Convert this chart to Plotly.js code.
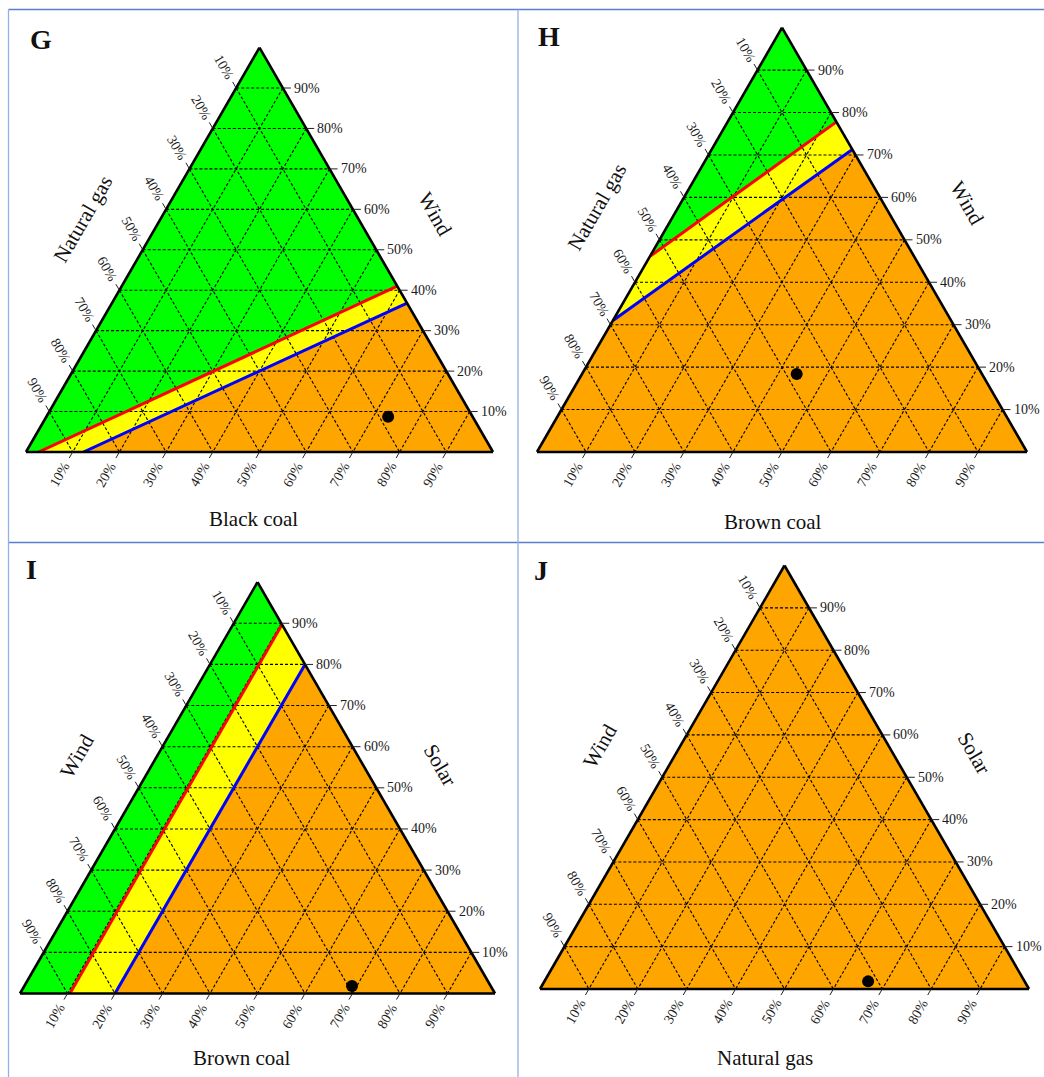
<!DOCTYPE html>
<html>
<head>
<meta charset="utf-8">
<script src="https://cdn.plot.ly/plotly-3.0.1.min.js"></script>
<style>
  html, body { margin: 0; padding: 0; background: #fff; }
</style>
</head>
<body>
<div id="graph" style="width:1044px;height:1077px;"></div>
<script>
// four ternary diagrams (G, H, I, J): least-cost mix of three sources
// every composition is written as [top, left, right] fractions

var tickVals = [0.1, 0.2, 0.3, 0.4, 0.5, 0.6, 0.7, 0.8, 0.9];
var tickText = ['10%', '20%', '30%', '40%', '50%', '60%', '70%', '80%', '90%'];

var letters = ['G', 'H', 'I', 'J'];
var topNames = ['Wind', 'Wind', 'Solar', 'Solar'];
var leftNames = ['Natural gas', 'Natural gas', 'Wind', 'Wind'];
var rightNames = ['Black coal', 'Brown coal', 'Brown coal', 'Natural gas'];

// red and blue boundaries, two end points each
var redG = [[0, 0.973, 0.027], [0.41, 0, 0.59]];
var blueG = [[0, 0.877, 0.123], [0.368, 0, 0.632]];
var redH = [[0.461, 0.539, 0], [0.778, 0, 0.222]];
var blueH = [[0.31, 0.69, 0], [0.713, 0, 0.287]];
var redI = [[0, 0.895, 0.105], [0.897, 0, 0.103]];
var blueI = [[0, 0.8, 0.2], [0.8, 0, 0.2]];
var redLines = [redG, redH, redI, null];
var blueLines = [blueG, blueH, blueI, null];

// black dot in each diagram
var dots = [[0.087, 0.181, 0.732], [0.184, 0.378, 0.438], [0.018, 0.292, 0.69], [0.018, 0.32, 0.662]];

var GREEN = '#00ff00', YELLOW = '#ffff00', ORANGE = '#ffa500';
var FONT = 'Liberation Serif, Times New Roman, serif';

// where each triangle sits on the page (pixels)
var frames = [
  {left: 26, base: 452, side: 467, bottom: [253, 519], leftT: [83, 219], rightT: [435, 214], tag: [41, 39]},
  {left: 537, base: 452, side: 490, bottom: [773, 522], leftT: [597, 207], rightT: [967, 203], tag: [549, 37]},
  {left: 20, base: 993.5, side: 475, bottom: [242, 1058], leftT: [77, 756], rightT: [440, 765], tag: [31, 569]},
  {left: 540, base: 989, side: 489, bottom: [765, 1058], leftT: [600, 746], rightT: [974, 753], tag: [541, 570]}
];

var W = 1044, H = 1077, S3 = Math.sqrt(3) / 2;
var TICKFONT = {size: 14, family: FONT, color: '#1a1a1a'};

function px(f, p) {
  var h = f.side * S3;
  return [f.left + f.side * (p[2] + p[0] / 2), f.base - h * p[0]];
}
function pap(pt) { return [pt[0] / W, 1 - pt[1] / H]; }

// which side of a boundary a composition is on (a,c plane is affine)
function side(line, p) {
  var p1 = line[0], p2 = line[1];
  return (p2[0] - p1[0]) * (p[2] - p1[2]) - (p2[2] - p1[2]) * (p[0] - p1[0]);
}
function clip(poly, line, sign) {
  var out = [];
  for (var i = 0; i < poly.length; i++) {
    var p = poly[i], q = poly[(i + 1) % poly.length];
    var sp = side(line, p) * sign, sq = side(line, q) * sign;
    if (sp >= 0) out.push(p);
    if ((sp > 0 && sq < 0) || (sp < 0 && sq > 0)) {
      var t = sp / (sp - sq);
      out.push([p[0] + t * (q[0] - p[0]), p[1] + t * (q[1] - p[1]), p[2] + t * (q[2] - p[2])]);
    }
  }
  return out;
}
function col(arr, k) { return arr.map(function (p) { return p[k]; }); }

var data = [], shapes = [], annotations = [];
var corners = [[1, 0, 0], [0, 1, 0], [0, 0, 1]];

var axisStyle = {
  showticklabels: false, ticks: '', showgrid: false,
  showline: true, linecolor: 'black', linewidth: 2.6, title: {text: ''}
};

var layout = {
  width: W, height: H,
  margin: {l: 0, r: 0, t: 0, b: 0},
  paper_bgcolor: 'white',
  showlegend: false,
  hovermode: false,
  font: {family: FONT, color: '#1a1a1a'}
};

for (var k = 0; k < 4; k++) {
  var f = frames[k];
  var sub = k === 0 ? 'ternary' : 'ternary' + (k + 1);
  var h = f.side * S3;

  layout[sub] = {
    domain: {x: [f.left / W, (f.left + f.side) / W], y: [1 - f.base / H, 1 - (f.base - h) / H]},
    bgcolor: ORANGE,
    sum: 1,
    aaxis: axisStyle, baxis: axisStyle, caxis: axisStyle
  };

  var dot = dots[k];
  var red = redLines[k], blue = blueLines[k];

  if (red) {
    // green lies beyond the red line, away from the dot
    var sRed = side(red, dot) > 0 ? -1 : 1;
    var sBlue = side(blue, dot) > 0 ? -1 : 1;
    var greenPoly = clip(corners, red, sRed);
    var yellowPoly = clip(clip(corners, blue, sBlue), red, -sRed);
    [[greenPoly, GREEN], [yellowPoly, YELLOW]].forEach(function (pc) {
      data.push({
        type: 'scatterternary', subplot: sub, mode: 'none',
        a: col(pc[0], 0), b: col(pc[0], 1), c: col(pc[0], 2),
        fill: 'toself', fillcolor: pc[1]
      });
    });
  }

  // dashed grid
  var ga = [], gb = [], gc = [];
  tickVals.forEach(function (v) {
    var segs = [
      [[v, 1 - v, 0], [v, 0, 1 - v]],
      [[1 - v, v, 0], [0, v, 1 - v]],
      [[1 - v, 0, v], [0, 1 - v, v]]
    ];
    segs.forEach(function (s) {
      ga.push(s[0][0], s[1][0], null);
      gb.push(s[0][1], s[1][1], null);
      gc.push(s[0][2], s[1][2], null);
    });
  });
  data.push({
    type: 'scatterternary', subplot: sub, mode: 'lines',
    a: ga, b: gb, c: gc,
    line: {color: '#000', width: 1.1, dash: '3px,2px'}
  });

  if (red) {
    data.push({
      type: 'scatterternary', subplot: sub, mode: 'lines',
      a: col(red, 0), b: col(red, 1), c: col(red, 2),
      line: {color: '#ff0000', width: 3}
    });
    data.push({
      type: 'scatterternary', subplot: sub, mode: 'lines',
      a: col(blue, 0), b: col(blue, 1), c: col(blue, 2),
      line: {color: '#0000ff', width: 3}
    });
  }

  data.push({
    type: 'scatterternary', subplot: sub, mode: 'markers',
    a: [dot[0]], b: [dot[1]], c: [dot[2]],
    marker: {color: 'black', size: 12}
  });

  // ticks and tick labels on the three edges
  tickVals.forEach(function (v, i) {
    var txt = tickText[i];
    // right edge: top component
    var pr = px(f, [v, 0, 1 - v]);
    addTick(pr, [pr[0] + 8, pr[1]]);
    var lr = pap([pr[0] + 9, pr[1]]);
    annotations.push({x: lr[0], y: lr[1], xref: 'paper', yref: 'paper', text: txt, showarrow: false,
      xanchor: 'left', yanchor: 'middle', font: TICKFONT});
    // left edge: left component
    var pl = px(f, [1 - v, v, 0]);
    var dl = [-0.5, -S3];
    addTick(pl, [pl[0] + 7 * dl[0], pl[1] + 7 * dl[1]]);
    var ll = pap([pl[0] + 24 * dl[0], pl[1] + 24 * dl[1]]);
    annotations.push({x: ll[0], y: ll[1], xref: 'paper', yref: 'paper', text: txt, showarrow: false,
      textangle: 60, xanchor: 'center', yanchor: 'middle', font: TICKFONT});
    // bottom edge: right component
    var pb = px(f, [0, 1 - v, v]);
    var db = [-0.5, S3];
    addTick(pb, [pb[0] + 7 * db[0], pb[1] + 7 * db[1]]);
    var lb = pap([pb[0] + 26 * db[0], pb[1] + 26 * db[1]]);
    annotations.push({x: lb[0], y: lb[1], xref: 'paper', yref: 'paper', text: txt, showarrow: false,
      textangle: -60, xanchor: 'center', yanchor: 'middle', font: TICKFONT});
  });

  addText(f.bottom, rightNames[k], 0, 21);
  addText(f.leftT, leftNames[k], -60, 21);
  addText(f.rightT, topNames[k], 60, 21);
  addText(f.tag, '<b>' + letters[k] + '</b>', 0, 28);
}

function addTick(p0, p1) {
  var a = pap(p0), b = pap(p1);
  shapes.push({type: 'line', xref: 'paper', yref: 'paper', x0: a[0], y0: a[1], x1: b[0], y1: b[1],
    line: {color: '#222', width: 1}});
}
function addText(pt, txt, ang, size) {
  var p = pap(pt);
  annotations.push({x: p[0], y: p[1], xref: 'paper', yref: 'paper', text: txt, showarrow: false,
    textangle: ang, xanchor: 'center', yanchor: 'middle', font: {size: size, family: FONT, color: '#111'}});
}

// panel frame lines
function frameLine(x0, y0, x1, y1, color) {
  var a = pap([x0, y0]), b = pap([x1, y1]);
  shapes.push({type: 'line', xref: 'paper', yref: 'paper', x0: a[0], y0: a[1], x1: b[0], y1: b[1],
    line: {color: color, width: 1.3}});
}
frameLine(8.5, 9.5, 1044, 9.5, '#5a7fcf');
frameLine(8.5, 542.5, 1044, 542.5, '#5a7fcf');
frameLine(8.5, 9.5, 8.5, 1077, '#94b0e4');
frameLine(518, 9.5, 518, 1077, '#94b0e4');

layout.shapes = shapes;
layout.annotations = annotations;

Plotly.newPlot('graph', data, layout, {staticPlot: true, displayModeBar: false});
</script>
</body>
</html>
